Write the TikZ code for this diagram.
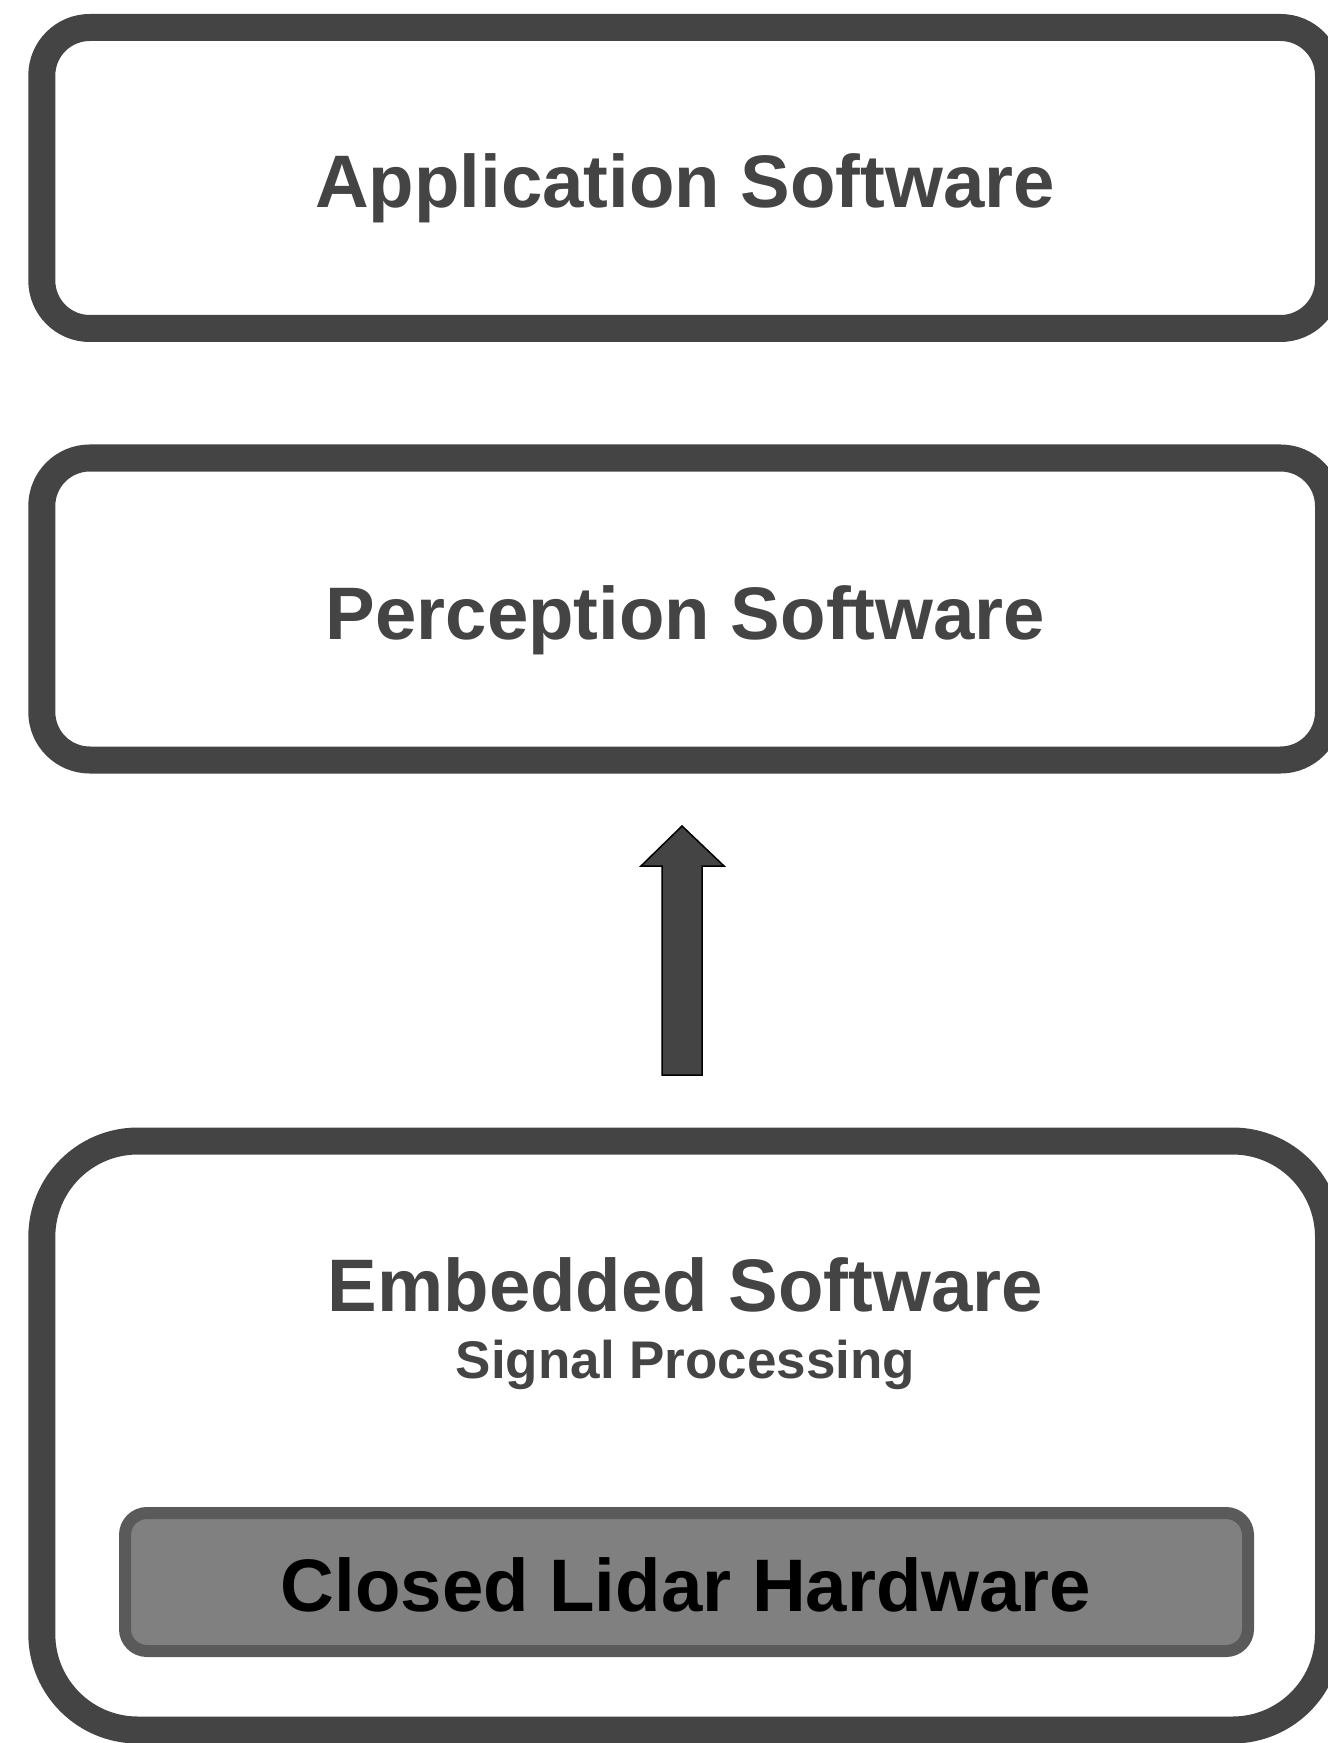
\documentclass[tikz,border=0pt]{standalone}
\usepackage{fontspec}
\setmainfont{Liberation Sans}
\definecolor{layergray}{HTML}{444444}
\definecolor{hwfill}{HTML}{808080}
\definecolor{hwedge}{HTML}{5A5A5A}
\begin{document}
\begin{tikzpicture}[x=0.5pt,y=-0.5pt,
  layerbox/.style={draw=layergray, line width=13.5pt, rounded corners=24pt,
    fill=white, inner sep=0pt, minimum width=643.35pt},
  hwbox/.style={draw=hwedge, fill=hwfill, line width=6pt, rounded corners=11pt,
    inner sep=0pt, minimum width=561.5pt, minimum height=69pt},
  title/.style={anchor=base, text=layergray, font=\bfseries\fontsize{37.2}{44}\selectfont, inner sep=0pt},
  subtitle/.style={anchor=base, text=layergray, font=\bfseries\fontsize{26.5}{32}\selectfont, inner sep=0pt},
  flow/.style={fill=layergray, draw=black, line width=0.75pt, line join=miter}]
\useasboundingbox (0,0) rectangle (1327,1743);

% software layers
\node[layerbox, minimum height=150.5pt] (app) at (685.15,178) {};
\node[layerbox, minimum height=151pt] (perc) at (685.15,609) {};
\node[layerbox, minimum height=294.5pt, rounded corners=48pt] (emb) at (685.15,1435.5) {};
\node[hwbox] (hw) at (686.5,1582) {};

% labels
\node[title] (applbl) at (685,208) {Application Software};
\node[title] (perclbl) at (685.5,639) {Perception Software};
\node[title] (emblbl) at (685.5,1311) {Embedded Software};
\node[subtitle] (sigLbl) at (685.5,1378) {Signal Processing};
\node[title, text=black] (hwlbl) at (686,1611) {Closed Lidar Hardware};

% data flow arrow from embedded up to perception
\coordinate (tail) at (682,1075);
\coordinate (tip) at (682,826);
\draw[flow] (tip) -- ++(42,40) -- ++(-22,0) |- (tail) -- ++(-20,0) -- ++(0,-209) -- ++(-21,0) -- cycle;
\end{tikzpicture}
\end{document}
